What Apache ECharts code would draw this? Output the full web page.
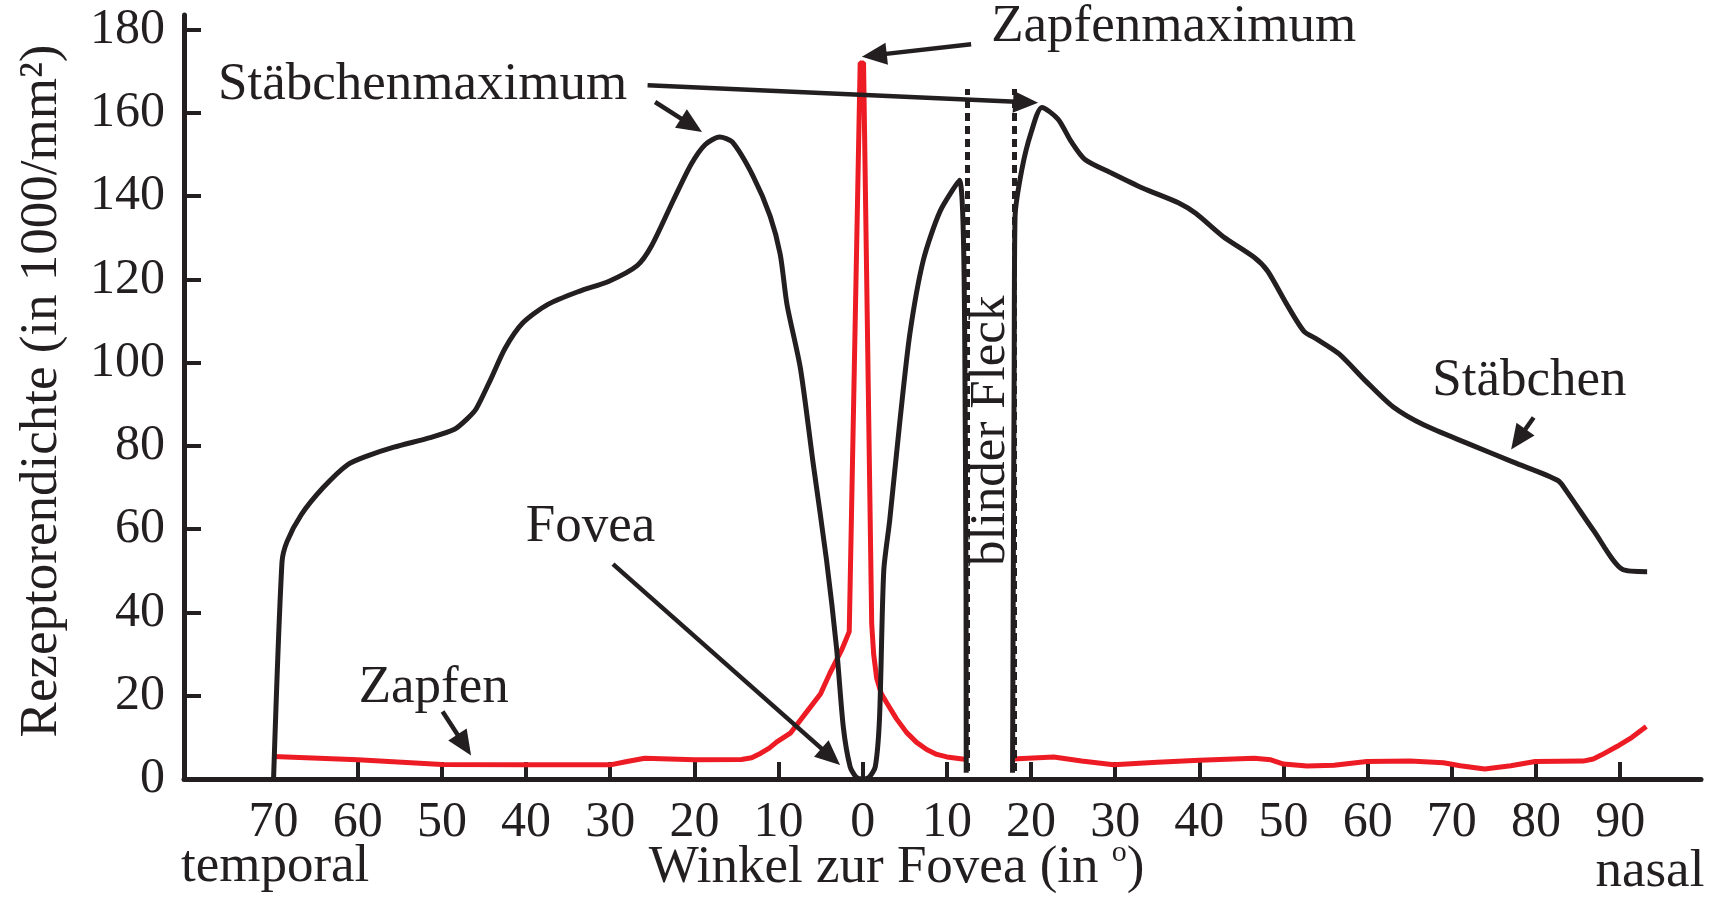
<!DOCTYPE html>
<html>
<head>
<meta charset="utf-8">
<title>Rezeptorendichte der Netzhaut</title>
<script src="https://cdn.jsdelivr.net/npm/echarts@6/dist/echarts.min.js"></script>
<style>
  html, body { margin: 0; padding: 0; background: #ffffff; }
  #chart { width: 1721px; height: 898px; }
</style>
</head>
<body>
<div id="chart"></div>
<script>
// Winkel zur Fovea in Grad: negative Werte = temporal, positive Werte = nasal
const xTicks = [-70, -60, -50, -40, -30, -20, -10, 0, 10, 20, 30, 40, 50, 60, 70, 80, 90];
const yTicks = [0, 20, 40, 60, 80, 100, 120, 140, 160, 180];

// Stäbchendichte (in 1000/mm²) über dem Winkel; null = blinder Fleck
const staebchen = [
  [-70, 0], [-69.0, 52], [-68.4, 57], [-66.7, 63.5], [-64.1, 70], [-61.2, 75.5],
  [-59.0, 77.5], [-55.7, 79.7], [-51.4, 82], [-48.5, 84], [-47.0, 86.5], [-45.9, 89],
  [-44.2, 96], [-42.5, 103.4], [-40.4, 109.5], [-37.4, 114], [-33.6, 117.2], [-30.2, 119.5],
  [-26.8, 123.3], [-25.1, 128], [-22.5, 139], [-20.4, 147.6], [-18.7, 152.4], [-17.0, 154.2],
  [-15.5, 153], [-13.0, 144.7], [-11.0, 135.2], [-9.8, 126], [-9.0, 114], [-7.4, 98.6],
  [-5.9, 76], [-4.3, 52.6], [-3.1, 31.3], [-2.3, 12.4], [-1.5, 3], [-0.8, 0.5], [0, 0],
  [0.8, 0.5], [1.5, 3], [2.0, 14.8], [2.5, 50], [3.2, 62], [4.4, 85.6], [5.6, 106.9],
  [7.2, 124.6], [9.2, 136.4], [11.5, 143.8], [12.2, 80], [12.3, 1.5],
  [15, null],
  [17.8, 1.5], [18.0, 100], [18.1, 135], [18.9, 146.3], [20.0, 155.2], [21.3, 161.3],
  [23.2, 158.5], [24.8, 153], [26.4, 148.8], [29.6, 145.5], [33.3, 141.9], [37.5, 138.4],
  [39.6, 135.8], [42.8, 130.3], [46.5, 125.3], [48.1, 122], [50.3, 114.3], [52.4, 107.6],
  [54.0, 105.6], [56.6, 102.1], [59.8, 95.5], [63.0, 89.4], [66.7, 85], [72.0, 80.5],
  [77.3, 76.1], [82.6, 71.7], [83.7, 68.9], [86.9, 59.5], [90.3, 50.3], [93.2, 49.8]
];

// Zapfendichte (in 1000/mm²) über dem Winkel; null = blinder Fleck
const zapfen = [
  [-70, 5.4], [-60, 4.6], [-50, 3.5], [-40, 3.4], [-30, 3.4], [-28, 4.2], [-25.9, 5.0],
  [-20, 4.6], [-14.4, 4.7], [-13.2, 5.1], [-12.1, 6.2], [-11.1, 7.4], [-10.2, 8.9],
  [-8.6, 11], [-6.7, 16], [-5.0, 20.5], [-3.9, 25.4], [-2.5, 31], [-1.6, 35.4],
  [-0.3, 172], [0.1, 172],
  [1.07, 37.2], [1.3, 30], [1.66, 24.2], [2.2, 20.5], [2.85, 18.3], [4.0, 14.5],
  [5.2, 11.2], [6.4, 8.8], [7.6, 7.1], [8.8, 5.9], [10, 5.3], [12.3, 4.7],
  [15, null],
  [17.8, 4.8], [22.7, 5.3], [26, 4.3], [29.8, 3.4], [35, 4.0], [40, 4.5], [46.5, 5.0],
  [48.5, 4.6], [50, 3.6], [52.8, 3.1], [56, 3.3], [59.9, 4.2], [65, 4.3], [69, 3.9],
  [71, 3.2], [73.9, 2.4], [77, 3.2], [79.9, 4.2], [85.6, 4.3], [86.8, 4.8], [87.8, 5.8],
  [89.6, 7.8], [91.4, 10], [93.1, 12.6]
];

// Grenzen des blinden Flecks (Grad) und Höhe der Begrenzungslinien
const blinderFleckGrenzen = [12.42, 17.95];
const blinderFleckHoehe = [1.9, 165.7];

// Beschriftungen, verankert in Datenkoordinaten [Winkel, Dichte]
const beschriftungen = [
  { text: 'Zapfenmaximum', at: [15.26, 180.5], align: 'left' },
  { text: 'Stäbchenmaximum', at: [-76.6, 166.7], align: 'left' },
  { text: 'Fovea', at: [-40.03, 60.5], align: 'left' },
  { text: 'Zapfen', at: [-59.89, 21.86], align: 'left' },
  { text: 'Stäbchen', at: [67.66, 95.68], align: 'left' },
  { text: 'blinder Fleck', at: [15.14, 83.64], align: 'center', rotate: true, size: 51 },
  { text: 'temporal', at: [-81.0, -21.1], align: 'left' },
  { text: 'nasal', at: [100.0, -22.4], align: 'right' },
  { text: 'Winkel zur Fovea (in {sup|o})', at: [4.03, -21.3], align: 'center' },
  { text: 'Rezeptorendichte (in 1000/mm²)', at: [-97.5, 93.2], align: 'center', rotate: true }
];

// Pfeile: von -> Spitze, in Datenkoordinaten
const pfeile = [
  { from: [12.88, 176.5], to: [-0.1, 173.5] },
  { from: [-25.56, 166.6], to: [20.84, 162.4] },
  { from: [-24.67, 162.6], to: [-19.09, 155.4] },
  { from: [-29.67, 51.6], to: [-2.69, 3.36] },
  { from: [-49.92, 16.19], to: [-46.53, 5.67] },
  { from: [79.72, 86.84], to: [77.04, 79.13] }
];

const INK = '#231f20';
const RED = '#ed1c24';
const FONT = '"Liberation Serif", "Times New Roman", serif';

const chart = echarts.init(document.getElementById('chart'), null, { renderer: 'canvas' });

const axisLineStyle = { color: INK, width: 5 };
const tickStyle = { color: INK, width: 4 };
const tickLabel = { fontFamily: FONT, fontSize: 50, color: INK };

const option = {
  animation: false,
  backgroundColor: '#ffffff',
  grid: { left: 184, right: 20, top: 15, bottom: 119, containLabel: false, outerBoundsMode: 'none' },
  xAxis: {
    type: 'value', min: -80.64, max: 99.6,
    axisLine: { show: true, onZero: false, lineStyle: axisLineStyle },
    axisTick: { show: true, inside: true, length: 17, customValues: xTicks, lineStyle: tickStyle },
    axisLabel: Object.assign({ show: true, margin: 19, customValues: xTicks,
      formatter: v => String(Math.abs(v)) }, tickLabel),
    splitLine: { show: false }
  },
  yAxis: {
    type: 'value', min: 0, max: 183.5,
    axisLine: { show: true, onZero: false, lineStyle: axisLineStyle },
    axisTick: { show: true, inside: true, length: 17, customValues: yTicks, lineStyle: tickStyle },
    axisLabel: Object.assign({ show: true, margin: 19, customValues: yTicks }, tickLabel),
    splitLine: { show: false }
  },
  series: [
    {
      name: 'Zapfen', type: 'line', data: zapfen, symbol: 'none', smooth: false,
      connectNulls: false, z: 2,
      lineStyle: { color: RED, width: 5, cap: 'butt', join: 'bevel' }
    },
    {
      name: 'Stäbchen', type: 'line', data: staebchen, symbol: 'none', smooth: 0.25,
      connectNulls: false, z: 3,
      lineStyle: { color: INK, width: 5, join: 'round' },
      markLine: {
        silent: true, symbol: 'none', animation: false,
        label: { show: false },
        lineStyle: { color: INK, width: 5, type: [8, 5], opacity: 1 },
        emphasis: { disabled: true },
        data: blinderFleckGrenzen.map(g => [
          { coord: [g, blinderFleckHoehe[0]] },
          { coord: [g, blinderFleckHoehe[1]] }
        ])
      }
    }
  ]
};

chart.setOption(option);

// Beschriftungen und Pfeile über die Achsenskalen platzieren
const px = p => chart.convertToPixel({ gridIndex: 0 }, p);

function textElement(b) {
  const [x, y] = px(b.at);
  const size = b.size || 53;
  return {
    type: 'text', x: x, y: y, rotation: b.rotate ? Math.PI / 2 : 0, silent: true, z: 20,
    style: {
      text: b.text, fill: INK, font: size + 'px ' + FONT,
      align: b.align, verticalAlign: 'middle',
      rich: { sup: { fontSize: 30, fontFamily: FONT, fill: INK, verticalAlign: 'top', lineHeight: 60 } }
    }
  };
}

function arrowElements(a) {
  const [x0, y0] = px(a.from);
  const [x1, y1] = px(a.to);
  const dx = x1 - x0, dy = y1 - y0;
  const len = Math.hypot(dx, dy);
  const ux = dx / len, uy = dy / len;
  const L = 25, W = 11;
  const bx = x1 - ux * L, by = y1 - uy * L;
  return [
    { type: 'line', silent: true, z: 20,
      shape: { x1: x0, y1: y0, x2: bx + ux * 3, y2: by + uy * 3 },
      style: { stroke: INK, lineWidth: 4.5 } },
    { type: 'polygon', silent: true, z: 20,
      shape: { points: [[x1, y1], [bx - uy * W, by + ux * W], [bx + uy * W, by - ux * W]] },
      style: { fill: INK } }
  ];
}

const graphics = [];
beschriftungen.forEach(b => graphics.push(textElement(b)));
pfeile.forEach(a => arrowElements(a).forEach(e => graphics.push(e)));
chart.setOption({ graphic: graphics });
</script>
</body>
</html>
